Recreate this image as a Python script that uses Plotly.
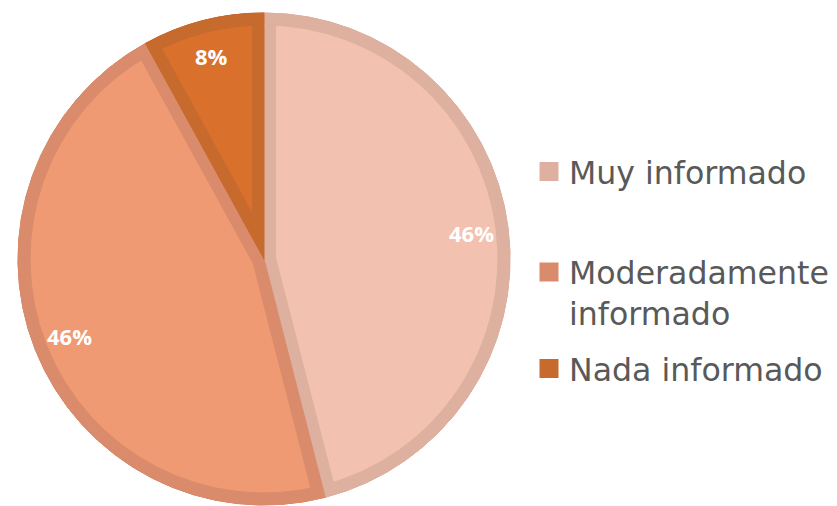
import math
import plotly.graph_objects as go

# ---- data ----
categories = ["Muy informado", "Moderadamente informado", "Nada informado"]
legend_labels = ["Muy informado", "Moderadamente<br>informado", "Nada informado"]
values = [46, 46, 8]

# ---- styles ----
fill_colors = ["#F2C1AF", "#EF9A72", "#D9702C"]
edge_colors = ["#DDB0A0", "#D98B6C", "#C76A2E"]
W, H = 837, 506
CX, CY = 264, 259          # pie centre (px)
R = 246                    # pie radius (px)
BW = 12                    # inset border width (px)


def domain(cx, cy, r):
    return dict(x=[(cx - r) / W, (cx + r) / W], y=[(H - cy - r) / H, (H - cy + r) / H])


common = dict(values=values, labels=categories, sort=False, direction="clockwise",
              rotation=0, textinfo="none", hoverinfo="label+percent", showlegend=False)

fig = go.Figure()

# layer A: full pie in the border colours
fig.add_trace(go.Pie(**common, domain=domain(CX, CY, R),
                     marker=dict(colors=edge_colors, line=dict(width=1, color=edge_colors))))

# layer B: inner fill of each slice, inset from the straight edges
total = sum(values)
start = 0.0
angles = []
for i, v in enumerate(values):
    a0 = start / total * 360.0
    a1 = (start + v) / total * 360.0
    start += v
    h = math.radians((a1 - a0) / 2)
    phi = math.radians((a0 + a1) / 2)
    angles.append(phi)
    d = BW / math.sin(h)
    r = R - BW / 2 - d * (1 + math.cos(h)) / 2
    cx = CX + d * math.sin(phi)
    cy = CY - d * math.cos(phi)
    cols = ["rgba(0,0,0,0)"] * len(values)
    cols[i] = fill_colors[i]
    fig.add_trace(go.Pie(**common, domain=domain(cx, cy, r),
                         marker=dict(colors=cols, line=dict(width=0))))

# layer C: outer ring in border colours
fig.add_trace(go.Pie(**common, domain=domain(CX, CY, R), hole=(R - BW) / R,
                     marker=dict(colors=edge_colors, line=dict(width=1, color=edge_colors))))

# percentage labels
annotations = []
for v, phi in zip(values, angles):
    rr = 0.85 * R
    x = CX + rr * math.sin(phi)
    y = CY - rr * math.cos(phi)
    annotations.append(dict(x=x / W, y=1 - y / H, xref="paper", yref="paper",
                            xanchor="center", yanchor="middle",
                            text="<b>%d%%</b>" % round(v / total * 100), showarrow=False,
                            font=dict(family="Open Sans", size=22, color="white")))

# legend entries (one legend per entry so spacing matches)
legend_names = ["legend", "legend2", "legend3"]
for i, lab in enumerate(legend_labels):
    fig.add_trace(go.Scatter(x=[None], y=[None], mode="markers", name=lab,
                             legend=legend_names[i], hoverinfo="skip",
                             marker=dict(symbol="square", size=16, color=edge_colors[i],
                                         line=dict(width=3, color=edge_colors[i]))))

legend_font = dict(family="DejaVu Sans", size=31.6, color="#595959")
legend_y = [172, 293, 369]
layout_legends = {}
for name, yy in zip(legend_names, legend_y):
    layout_legends[name] = dict(x=529 / W, xanchor="left", y=1 - yy / H, yanchor="middle",
                                font=legend_font, bgcolor="rgba(0,0,0,0)", borderwidth=0,
                                valign="top", itemclick=False, itemdoubleclick=False)

fig.update_layout(width=W, height=H, margin=dict(l=0, r=0, t=0, b=0),
                  paper_bgcolor="white", plot_bgcolor="white",
                  xaxis=dict(visible=False), yaxis=dict(visible=False),
                  annotations=annotations, **layout_legends)

fig.write_html("out.html", config={"displayModeBar": False},
               post_script="document.body.style.margin='0';")
